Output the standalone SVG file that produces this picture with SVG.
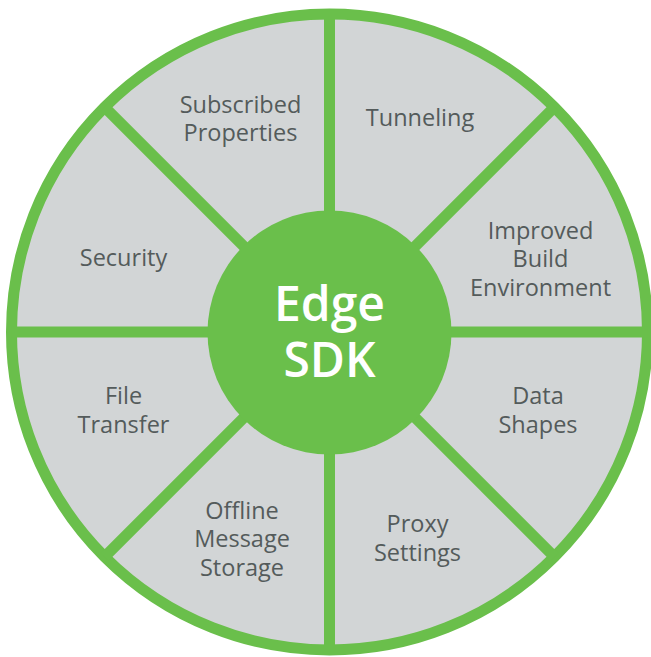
<svg xmlns="http://www.w3.org/2000/svg" width="651" height="657" viewBox="0 0 651 657">
<style>
.lbl{font-family:"Open Sans","Liberation Sans",sans-serif;font-size:23.5px;fill:#545b5b;text-anchor:middle}
.hub{font-family:"Open Sans","Liberation Sans",sans-serif;font-size:48px;font-weight:600;fill:#ffffff;text-anchor:middle}
.sp{stroke:#6abf4b;stroke-width:11;fill:none}
</style>
<rect width="651" height="657" fill="#ffffff"/>
<g id="wheel">
<circle cx="329.5" cy="332" r="318" fill="#d2d5d6" stroke="#6abf4b" stroke-width="11"/>
</g>
<g id="connectors">
<line class="sp" x1="329.5" y1="14" x2="329.5" y2="650"/>
<line class="sp" x1="11.5" y1="332" x2="647.5" y2="332"/>
<line class="sp" x1="104.6" y1="107.1" x2="554.4" y2="556.9"/>
<line class="sp" x1="554.4" y1="107.1" x2="104.6" y2="556.9"/>
</g>
<g id="hub">
<circle cx="329.5" cy="332.5" r="122" fill="#6abf4b"/>
<text class="hub" x="329.5" y="321">Edge</text>
<text class="hub" x="329.5" y="377">SDK</text>
</g>
<g id="subscribed-properties"><text class="lbl" x="240.5" y="113">Subscribed</text><text class="lbl" x="240.5" y="140.5">Properties</text></g>
<g id="tunneling"><text class="lbl" x="420" y="126">Tunneling</text></g>
<g id="improved-build-environment"><text class="lbl" x="540.5" y="238.5">Improved</text><text class="lbl" x="540.5" y="267">Build</text><text class="lbl" x="540.5" y="295.5">Environment</text></g>
<g id="data-shapes"><text class="lbl" x="538" y="404">Data</text><text class="lbl" x="538" y="433">Shapes</text></g>
<g id="proxy-settings"><text class="lbl" x="417.5" y="532">Proxy</text><text class="lbl" x="417.5" y="561">Settings</text></g>
<g id="offline-message-storage"><text class="lbl" x="242" y="518.5">Offline</text><text class="lbl" x="242" y="547">Message</text><text class="lbl" x="242" y="575.5">Storage</text></g>
<g id="file-transfer"><text class="lbl" x="123.5" y="404">File</text><text class="lbl" x="123.5" y="433">Transfer</text></g>
<g id="security"><text class="lbl" x="123.5" y="266">Security</text></g>
</svg>
